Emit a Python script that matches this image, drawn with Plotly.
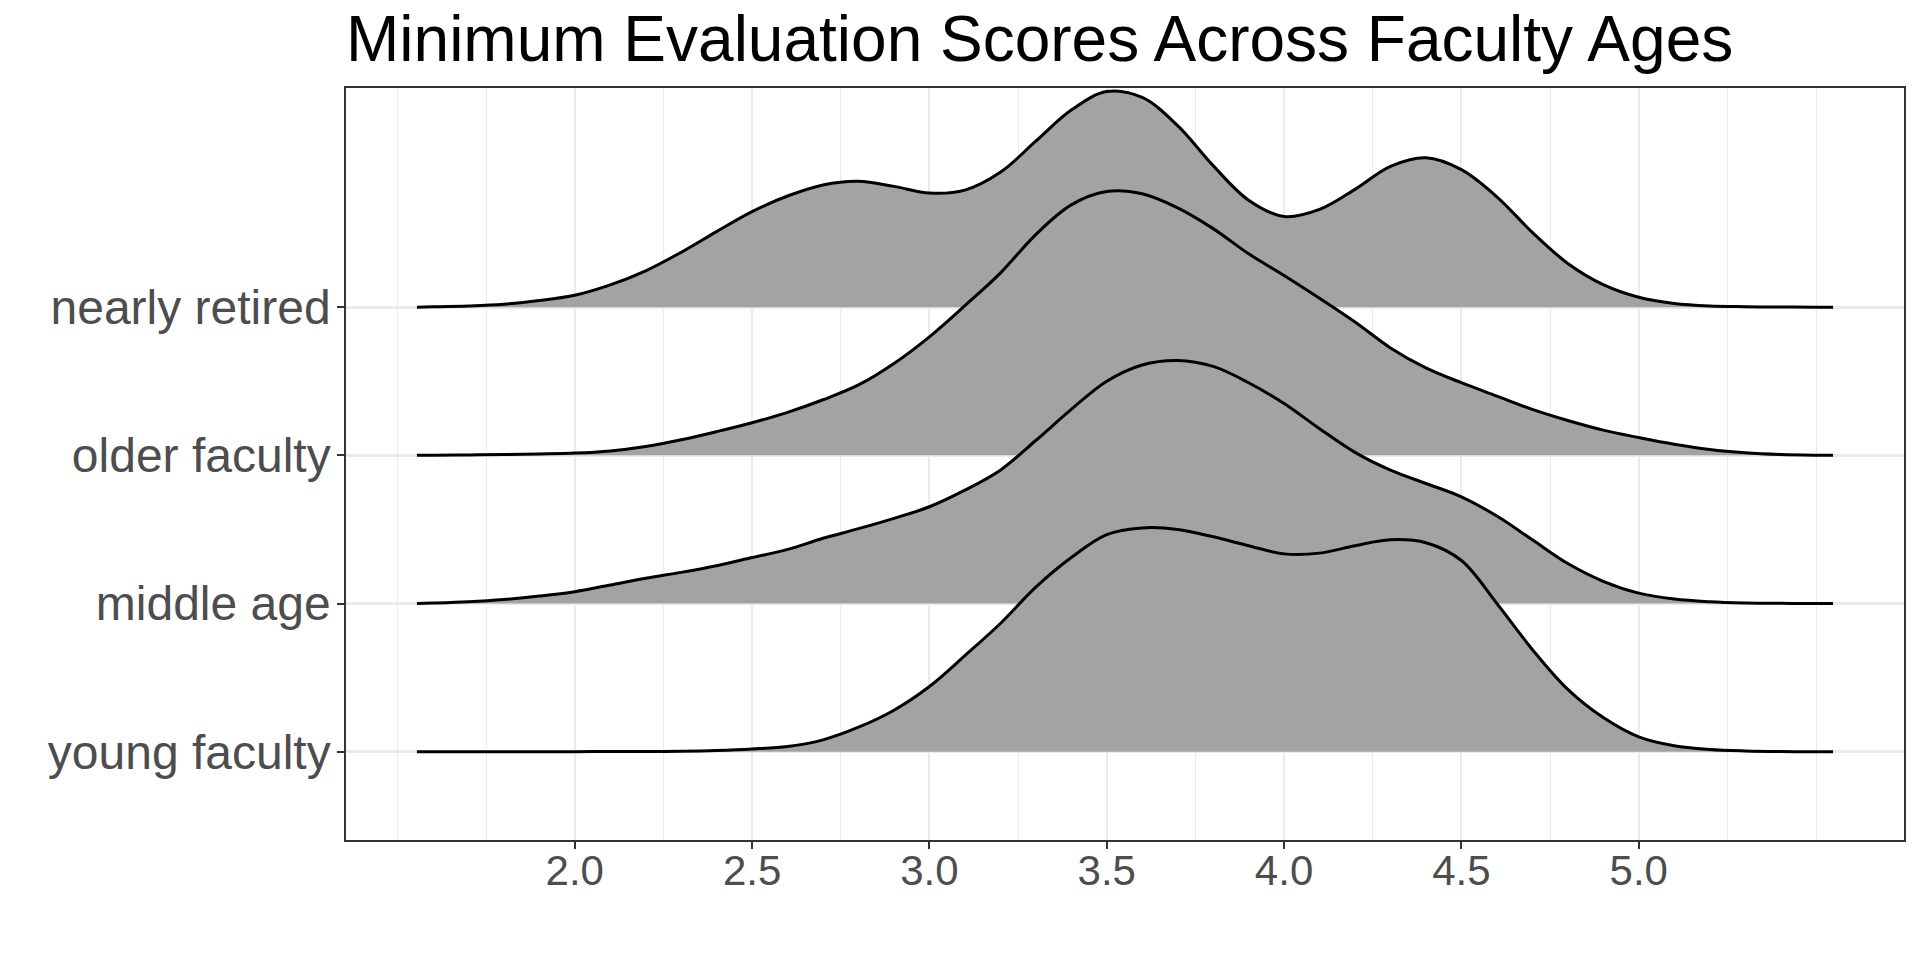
import plotly.graph_objects as go

# ---- data ----
groups = ["young faculty", "middle age", "older faculty", "nearly retired"]

score_grid = [1.555, 1.6, 1.7, 1.8, 1.9, 2.0, 2.1, 2.2, 2.3, 2.4, 2.5, 2.6, 2.7, 2.8, 2.9,
              3.0, 3.1, 3.2, 3.3, 3.4, 3.5, 3.6, 3.7, 3.8, 3.9, 4.0, 4.1, 4.2, 4.3, 4.4,
              4.5, 4.6, 4.7, 4.8, 4.9, 5.0, 5.1, 5.2, 5.3, 5.4, 5.5, 5.548]

young_density = [0, 0, 0, 0, 0, 0, 0.001, 0.001, 0.003, 0.008, 0.018, 0.035, 0.08, 0.165, 0.28,
                 0.44, 0.648, 0.865, 1.11, 1.31, 1.465, 1.51, 1.50, 1.45, 1.39, 1.335, 1.34, 1.39, 1.43, 1.41,
                 1.29, 1.00, 0.69, 0.42, 0.23, 0.10, 0.04, 0.015, 0.005, 0.001, 0, 0]

middle_density = [0, 0.003, 0.012, 0.027, 0.05, 0.08, 0.125, 0.17, 0.21, 0.255, 0.31, 0.365, 0.44, 0.505, 0.575,
                  0.653, 0.765, 0.90, 1.10, 1.31, 1.50, 1.61, 1.64, 1.60, 1.49, 1.35, 1.18, 1.02, 0.90, 0.81,
                  0.72, 0.59, 0.43, 0.27, 0.15, 0.07, 0.03, 0.012, 0.004, 0.001, 0, 0]

older_density = [0, 0.001, 0.003, 0.005, 0.009, 0.015, 0.03, 0.06, 0.105, 0.16, 0.22, 0.29, 0.375, 0.475, 0.62,
                 0.80, 1.01, 1.23, 1.49, 1.69, 1.78, 1.765, 1.67, 1.53, 1.36, 1.214, 1.06, 0.90, 0.725, 0.59,
                 0.49, 0.40, 0.31, 0.235, 0.17, 0.12, 0.075, 0.04, 0.018, 0.006, 0.001, 0]

retired_density = [0, 0.002, 0.008, 0.02, 0.045, 0.08, 0.15, 0.245, 0.37, 0.51, 0.645, 0.75, 0.825, 0.85, 0.815,
                   0.77, 0.79, 0.91, 1.12, 1.33, 1.455, 1.415, 1.225, 0.955, 0.722, 0.612, 0.66, 0.795, 0.95, 1.008,
                   0.928, 0.745, 0.505, 0.295, 0.152, 0.067, 0.025, 0.008, 0.003, 0.001, 0, 0]

x_ticks = [2.0, 2.5, 3.0, 3.5, 4.0, 4.5, 5.0]
x_ticktext = ["2.0", "2.5", "3.0", "3.5", "4.0", "4.5", "5.0"]
x_minor = [1.5, 1.75, 2.25, 2.75, 3.25, 3.75, 4.25, 4.75, 5.25, 5.5]

title = "Minimum Evaluation Scores Across Faculty Ages"

# ---- figure ----
ridges = [
    (4, retired_density),
    (3, older_density),
    (2, middle_density),
    (1, young_density),
]

FILL = "#A3A3A3"
fig = go.Figure()
for base, hs in ridges:
    fig.add_trace(go.Scatter(
        x=[score_grid[0], score_grid[-1]], y=[base, base], mode="lines",
        line=dict(width=0, color="rgba(0,0,0,0)"), hoverinfo="skip", showlegend=False,
    ))
    fig.add_trace(go.Scatter(
        x=score_grid, y=[base + h for h in hs], mode="lines",
        line=dict(color="black", width=3, shape="spline", smoothing=1.0),
        fill="tonexty", fillcolor=FILL, showlegend=False,
    ))

FONT = "Liberation Sans, Arial, Helvetica, sans-serif"
fig.update_layout(
    width=1920, height=960,
    paper_bgcolor="white", plot_bgcolor="white",
    margin=dict(l=338, r=24, t=80, b=128),
    font=dict(family=FONT, color="#4D4D4D"),
    title=dict(text=title, font=dict(family=FONT, size=64, color="black"),
               x=0, xref="paper", xanchor="left",
               y=1 - 31 / 960, yref="container", yanchor="middle"),
    showlegend=False,
)
fig.update_xaxes(
    range=[1.355, 5.748], tickmode="array", tickvals=x_ticks, ticktext=x_ticktext,
    tickfont=dict(size=42, color="#4D4D4D", family=FONT),
    showgrid=True, gridcolor="#EBEBEB", gridwidth=2,
    minor=dict(tickmode="array", tickvals=x_minor, showgrid=True, gridcolor="#EBEBEB", gridwidth=1, ticks=""),
    ticks="outside", ticklen=7, tickwidth=2, tickcolor="#333333",
    ticklabelstandoff=-14,
    showline=True, mirror=True, linecolor="#333333", linewidth=1.5,
    zeroline=False, automargin=False,
)
fig.update_yaxes(
    range=[0.404, 5.479], tickmode="array", tickvals=[1, 2, 3, 4], ticktext=groups,
    tickfont=dict(size=48, color="#4D4D4D", family=FONT),
    showgrid=True, gridcolor="#EBEBEB", gridwidth=2.5,
    ticks="outside", ticklen=7, tickwidth=2, tickcolor="#333333",
    ticklabelstandoff=-3,
    showline=True, mirror=True, linecolor="#333333", linewidth=1.5,
    zeroline=False, automargin=False,
)

fig.write_html("out.html")
